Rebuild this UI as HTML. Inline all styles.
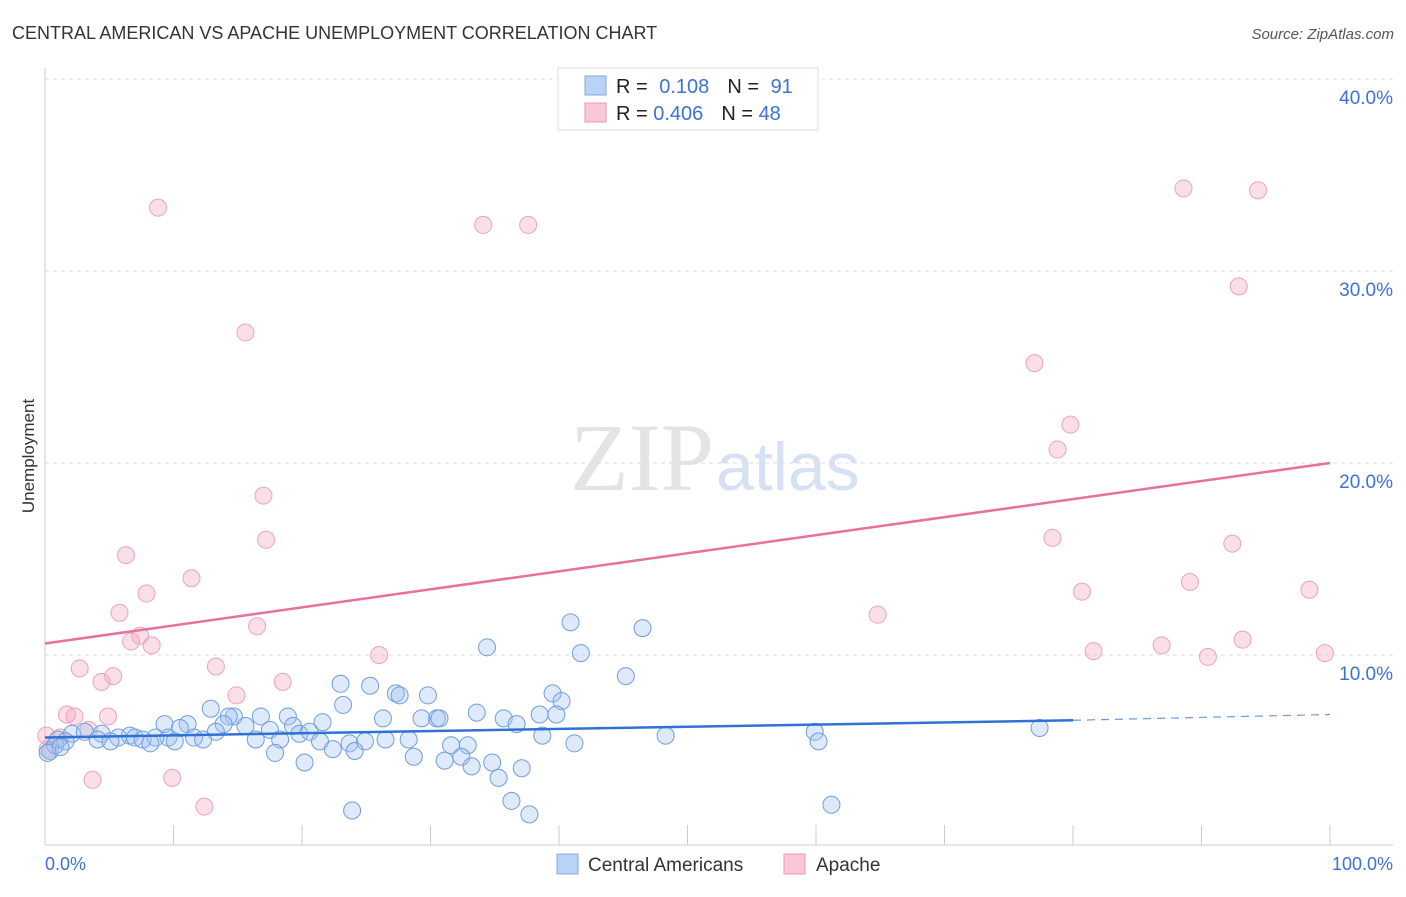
<!DOCTYPE html>
<html><head><meta charset="utf-8"><style>
body{margin:0;background:#fff;font-family:"Liberation Sans",sans-serif;}
</style></head><body>
<svg id="c" width="1406" height="892" xmlns="http://www.w3.org/2000/svg">
<text x="12" y="39" font-size="18" fill="#333">CENTRAL AMERICAN VS APACHE UNEMPLOYMENT CORRELATION CHART</text>
<text x="1394" y="39" font-size="15" font-style="italic" fill="#555" text-anchor="end">Source: ZipAtlas.com</text>
<text x="34" y="456" font-size="17" fill="#333" text-anchor="middle" transform="rotate(-90 34 456)">Unemployment</text>
<text x="714" y="490" font-size="96" font-family="Liberation Serif" fill="#e4e4e4" text-anchor="end">ZIP</text>
<text x="716" y="490" font-size="68" fill="#d6e2f4">atlas</text>
<g id="grid"></g><g id="pts"></g><g id="lines"></g>
<g>
<rect x="558" y="68" width="260" height="62" fill="#fff" stroke="#ddd"/>
<rect x="585" y="76" width="21" height="19" fill="#b8d3f6" stroke="#7fa8e0"/>
<rect x="585" y="103" width="21" height="19" fill="#f9c7d6" stroke="#ec9ab4"/>
<text x="616" y="93" font-size="20" fill="#222">R = <tspan fill="#3a73d4" dx="6">0.108</tspan><tspan dx="18" fill="#222">N = </tspan><tspan dx="6" fill="#3a73d4">91</tspan></text>
<text x="616" y="120" font-size="20" fill="#222">R = <tspan fill="#3a73d4">0.406</tspan><tspan dx="18" fill="#222">N = </tspan><tspan fill="#3a73d4">48</tspan></text>
</g>
<g>
<rect x="557" y="854" width="21" height="20" fill="#b8d3f6" stroke="#7fa8e0"/>
<text x="588" y="871" font-size="19" fill="#333">Central Americans</text>
<rect x="784" y="854" width="21" height="20" fill="#f9c7d6" stroke="#ec9ab4"/>
<text x="816" y="871" font-size="19" fill="#333">Apache</text>
</g>
<text x="45" y="870" font-size="18" fill="#3a73d4">0.0%</text>
<text x="1393" y="870" font-size="18" fill="#3a73d4" text-anchor="end">100.0%</text>
</svg>
<script>
const yTicks=[10,20,30,40];
const yTickLabels=["10.0%","20.0%","30.0%","40.0%"];
const pinkX=[8.8,34.1,37.6,15.6,88.6,94.4,92.9,77.0,79.8,78.8,17.0,17.2,6.3,11.4,7.9,5.8,78.4,92.4,89.1,80.7,98.4,64.8,16.5,7.4,6.7,8.3,81.6,86.9,93.2,90.5,99.6,26.0,2.7,13.3,5.3,4.4,18.5,14.9,1.7,2.3,4.9,3.4,0.1,1.2,3.7,9.9,12.4,0.2];
const pinkY=[33.3,32.4,32.4,26.8,34.3,34.2,29.2,25.2,22.0,20.7,18.3,16.0,15.2,14.0,13.2,12.2,16.1,15.8,13.8,13.3,13.4,12.1,11.5,11.0,10.7,10.5,10.2,10.5,10.8,9.9,10.1,10.0,9.3,9.4,8.9,8.6,8.6,7.9,6.9,6.8,6.8,6.1,5.8,5.7,3.5,3.6,2.1,5.1];
const blueX=[40.9,46.5,34.4,41.7,45.2,23.0,25.3,27.3,39.5,29.8,40.2,27.6,12.9,23.2,33.6,16.8,14.7,14.3,18.9,35.7,26.3,38.5,39.8,30.5,29.3,30.7,21.6,36.7,11.1,9.3,10.5,15.6,19.3,13.9,59.9,17.5,19.8,13.3,20.6,48.3,38.7,9.6,6.6,4.4,5.7,2.1,3.1,7.0,1.0,11.6,7.6,8.6,12.3,10.1,16.4,18.3,21.4,26.5,28.3,23.7,24.9,31.6,32.9,41.2,60.2,77.4,22.4,24.1,17.9,28.7,31.1,32.4,20.2,33.2,34.8,37.1,35.3,36.3,61.2,23.9,37.7,0.4,0.8,1.6,4.1,5.1,8.2,1.2,0.2];
const blueY=[11.7,11.4,10.4,10.1,8.9,8.5,8.4,8.0,8.0,7.9,7.6,7.9,7.2,7.4,7.0,6.8,6.8,6.8,6.8,6.7,6.7,6.9,6.9,6.7,6.7,6.7,6.5,6.4,6.4,6.4,6.2,6.3,6.3,6.4,6.0,6.1,5.9,6.0,6.0,5.8,5.8,5.7,5.8,5.9,5.7,5.9,6.0,5.7,5.6,5.7,5.6,5.7,5.6,5.5,5.6,5.6,5.5,5.6,5.6,5.4,5.5,5.3,5.3,5.4,5.5,6.2,5.1,5.0,4.9,4.7,4.5,4.7,4.4,4.2,4.4,4.1,3.6,2.4,2.2,1.9,1.7,5.0,5.3,5.5,5.6,5.5,5.4,5.2,4.9];
const pinkLine=[10.6,20.0];
const blueLine=[5.7,6.6,6.9];
const X=v=>45+v*12.85, Y=v=>847-v*19.2;
const ns="http://www.w3.org/2000/svg";
function mk(t,a,p){const e=document.createElementNS(ns,t);for(const k in a)e.setAttribute(k,a[k]);document.getElementById(p).appendChild(e);return e;}
yTicks.forEach((t,i)=>{
 const l=mk('line',{x1:45,x2:1393,y1:Y(t),y2:Y(t),stroke:'#ddd','stroke-dasharray':'4,4'},'grid');
 
 
 const tx=mk('text',{x:1393,y:Y(t)+25,'font-size':19,fill:'#3a73d4','text-anchor':'end'},'grid');
 tx.textContent=yTickLabels[i];
 
 
});
const ax=mk('line',{x1:45,x2:1393,y1:845,y2:845,stroke:'#ccc'},'grid');


const ay=mk('line',{x1:45,x2:45,y1:68,y2:845,stroke:'#ccc'},'grid');


for(let i=1;i<=10;i++){const t=mk('line',{x1:X(i*10),x2:X(i*10),y1:825,y2:845,stroke:'#ccc'},'grid');
 
 }
pinkX.forEach((x,i)=>{const c=mk('circle',{cx:X(x),cy:Y(pinkY[i]),r:8.5,fill:'rgba(244,164,190,0.35)',stroke:'#eba3bb','stroke-width':1},'pts');
 
 });
blueX.forEach((x,i)=>{const c=mk('circle',{cx:X(x),cy:Y(blueY[i]),r:8.5,fill:'rgba(160,195,240,0.35)',stroke:'#6f9edd','stroke-width':1},'pts');
 
 });
const pl=mk('line',{x1:X(0),y1:Y(pinkLine[0]),x2:X(100),y2:Y(pinkLine[1]),stroke:'#e8719a','stroke-width':2.5},'lines');


const bl=mk('line',{x1:X(0),y1:Y(blueLine[0]),x2:X(80),y2:Y(blueLine[1]),stroke:'#2f72d6','stroke-width':2.5},'lines');


const bd=mk('line',{x1:X(80),y1:Y(blueLine[1]),x2:X(100),y2:Y(blueLine[2]),stroke:'#2f72d6','stroke-width':1.2,'stroke-dasharray':'8,6',opacity:0.7},'lines');


</script>
</body></html>
